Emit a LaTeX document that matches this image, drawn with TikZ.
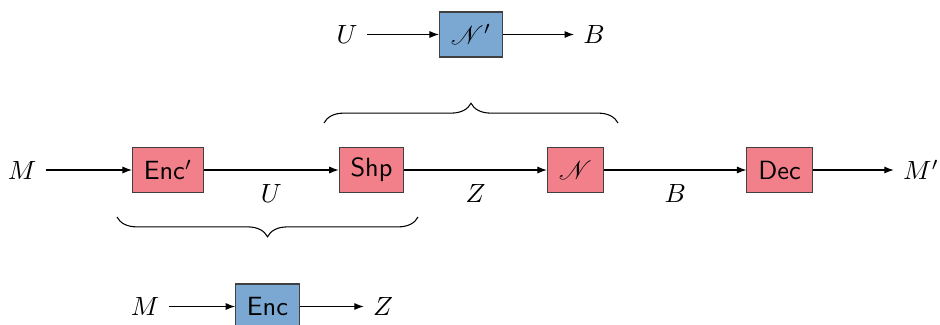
\documentclass[tikz,border=0pt]{standalone}
\usepackage{amsmath, amssymb, mathrsfs}
\usepackage{tikz}
\usetikzlibrary{arrows.meta, decorations.pathreplacing}
\definecolor{blkred}{RGB}{241,128,139}
\definecolor{blkblue}{RGB}{123,168,211}
\tikzset{blk/.style={draw=black!75, minimum width=0.75cm, minimum height=0.6cm, inner xsep=4.3pt, font=\sffamily},
  redblk/.style={blk, fill=blkred},
  blueblk/.style={blk, fill=blkblue},
  sig/.style={-{Latex[length=3.6pt, width=2.7pt]}},
  brc/.style={decorate, decoration={brace, amplitude=7.5pt}}}

\begin{document}
\begin{tikzpicture}[x=0.01333cm, y=-0.01333cm]
\useasboundingbox (0,0) rectangle (940,324);
% main chain
\node (m) at (22,170) {$M$};
\node[redblk] (encp) at (168,170) {Enc$'$};
\node[redblk] (shp) at (371.5,170) {Shp};
\node[redblk] (ch) at (575.5,170) {$\mathscr{N}$};
\node[redblk] (dec) at (779.5,170) {Dec};
\node (mp) at (921,170) {$M'$};
\draw[sig] (m) -- (encp);
\draw[sig] (encp) -- node[below=2pt]{$U$} (shp);
\draw[sig] (shp) -- node[below=2pt]{$Z$} (ch);
\draw[sig] (ch) -- node[below=2pt]{$B$} (dec);
\draw[sig] (dec) -- (mp);
% effective channel
\node (u) at (347,34.5) {$U$};
\node[blueblk] (chp) at (471,34.5) {$\mathscr{N}'$};
\node (b) at (594,34.5) {$B$};
\draw[sig] (u) -- (chp.west |- u);
\draw[sig] (chp.east |- b) -- (b);
\draw[brc] (324,123) -- (618,123);
% effective encoder
\node (m2) at (145,306.5) {$M$};
\node[blueblk] (enc) at (267.5,306.5) {Enc};
\node (z2) at (383,306.5) {$Z$};
\draw[sig] (m2) -- (enc.west |- m2);
\draw[sig] (enc.east |- z2) -- (z2);
\draw[brc] (418,217) -- (117,217);
\end{tikzpicture}
\end{document}
